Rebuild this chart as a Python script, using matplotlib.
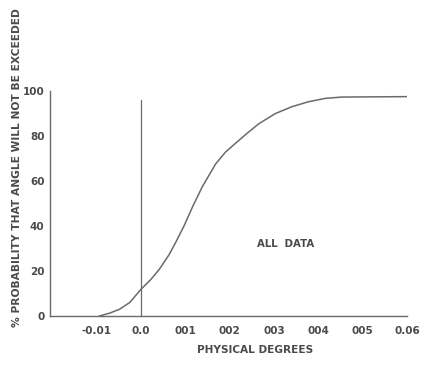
import matplotlib.pyplot as plt

# cumulative probability curve
deg = [-0.0094, -0.0071, -0.0049, -0.0026, 0.0, 0.0022, 0.0041, 0.0063,
       0.0078, 0.0097, 0.0116, 0.0138, 0.0168, 0.0190, 0.0213, 0.0239,
       0.0265, 0.0303, 0.0340, 0.0377, 0.0415, 0.0452, 0.0601]
prob = [0.0, 1.3, 3.0, 6.0, 12.0, 16.3, 20.8, 27.3,
        32.8, 40.2, 48.6, 57.5, 67.6, 72.8, 76.8, 81.2,
        85.4, 90.0, 93.0, 95.2, 96.7, 97.3, 97.5]

xticks = [-0.01, 0.0, 0.01, 0.02, 0.03, 0.04, 0.05, 0.06]
xtick_labels = ["-0.01", "0.0", "001", "002", "003", "004", "005", "0.06"]
yticks = [0, 20, 40, 60, 80, 100]

ink = "#4a4a4a"
line = "#6a6a6a"

fig = plt.figure(figsize=(4.25, 3.65), dpi=100)
ax = fig.add_axes([50 / 425, 49 / 365, 357 / 425, 225 / 365])

ax.plot(deg, prob, color=line, lw=1.1, solid_joinstyle="round")
ax.plot([0.0, 0.0], [0, 96], color=line, lw=0.9)

ax.set_xlim(-0.0206, 0.0594)
ax.set_ylim(0, 100)
for s in ["top", "right"]:
    ax.spines[s].set_visible(False)
for s in ["left", "bottom"]:
    ax.spines[s].set_color(line)
    ax.spines[s].set_linewidth(1.0)

ax.set_xticks(xticks)
ax.set_xticklabels(xtick_labels)
ax.set_yticks(yticks)
ax.tick_params(length=0, colors=ink, labelsize=7.5)
ax.tick_params(axis="x", pad=7)
ax.tick_params(axis="y", pad=4)
for lab in ax.get_xticklabels() + ax.get_yticklabels():
    lab.set_fontweight("bold")

ax.text(0.0325, 32, "ALL  DATA", color=ink, fontsize=7.3, fontweight="bold",
        ha="center", va="center")

fig.text(255 / 425, 1 - 350 / 365, "PHYSICAL DEGREES", color=ink, fontsize=7.6,
         fontweight="bold", ha="center", va="center")
fig.text(17 / 425, 1 - 168 / 365, "% PROBABILITY THAT ANGLE WILL NOT BE EXCEEDED",
         color=ink, fontsize=7.7, fontweight="bold", rotation=90,
         ha="center", va="center")

fig.savefig("out.png", dpi=100)
